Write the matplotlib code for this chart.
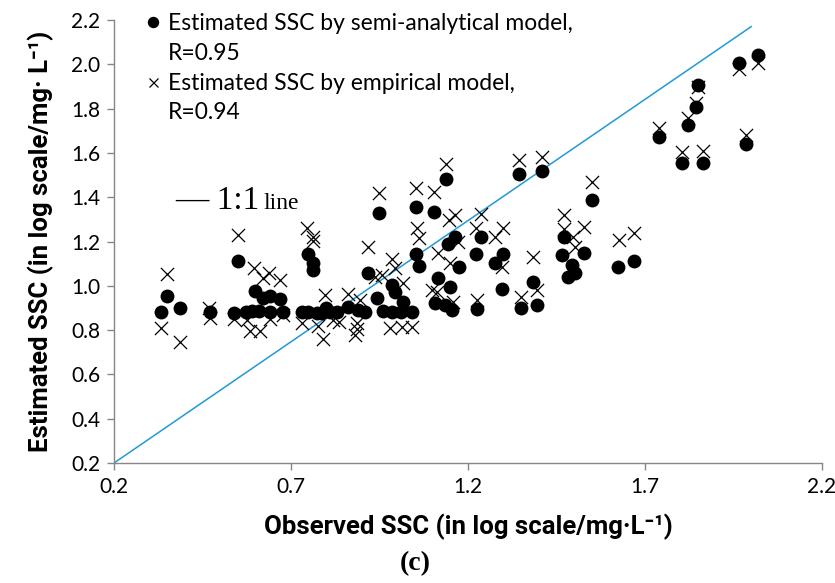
import matplotlib.pyplot as plt
from matplotlib.lines import Line2D


# observed SSC vs estimated SSC, both in log scale (mg/L)
SEMI_X = [0.332, 0.351, 0.386, 0.471, 0.539, 0.551, 0.573, 0.589, 0.598, 0.610,
          0.620, 0.641, 0.641, 0.669, 0.678, 0.730, 0.749, 0.749, 0.763, 0.763,
          0.773, 0.788, 0.799, 0.810, 0.831, 0.862, 0.889, 0.909, 0.918, 0.942,
          0.949, 0.961, 0.984, 0.994, 0.984, 1.012, 1.017, 1.041, 1.053, 1.062,
          1.053, 1.104, 1.138, 1.107, 1.116, 1.135, 1.149, 1.154, 1.143, 1.163,
          1.175, 1.224, 1.226, 1.236, 1.276, 1.295, 1.299, 1.344, 1.350, 1.383,
          1.394, 1.408, 1.465, 1.471, 1.483, 1.493, 1.502, 1.529, 1.549, 1.625,
          1.670, 1.740, 1.804, 1.822, 1.844, 1.849, 1.863, 1.966, 1.985, 2.020]
SEMI_Y = [0.883, 0.954, 0.901, 0.883, 0.879, 1.113, 0.883, 0.886, 0.977, 0.886,
          0.944, 0.954, 0.883, 0.939, 0.883, 0.883, 0.883, 1.144, 1.103, 1.071,
          0.879, 0.879, 0.898, 0.883, 0.883, 0.906, 0.891, 0.883, 1.056, 0.944,
          1.329, 0.886, 1.004, 0.973, 0.883, 0.883, 0.928, 0.883, 1.144, 1.089,
          1.356, 1.333, 1.482, 0.921, 1.034, 0.913, 0.996, 0.891, 1.189, 1.220,
          1.083, 1.144, 0.894, 1.219, 1.102, 0.984, 1.144, 1.503, 0.898, 1.019,
          0.913, 1.520, 1.139, 1.219, 1.041, 1.094, 1.056, 1.149, 1.387, 1.083,
          1.112, 1.673, 1.553, 1.726, 1.806, 1.907, 1.556, 2.007, 1.640, 2.042]

EMP_X = [0.332, 0.349, 0.386, 0.469, 0.471, 0.539, 0.550, 0.575, 0.584, 0.612,
         0.595, 0.622, 0.639, 0.641, 0.669, 0.678, 0.730, 0.745, 0.762, 0.762,
         0.777, 0.790, 0.796, 0.819, 0.836, 0.862, 0.886, 0.887, 0.881, 0.895,
         0.918, 0.937, 0.949, 0.956, 0.984, 0.994, 0.980, 1.013, 1.041, 1.017,
         1.053, 1.055, 1.062, 1.104, 1.138, 1.097, 1.112, 1.116, 1.149, 1.158,
         1.147, 1.163, 1.173, 1.224, 1.226, 1.236, 1.276, 1.295, 1.299, 1.344,
         1.350, 1.383, 1.394, 1.408, 1.471, 1.471, 1.497, 1.502, 1.528, 1.549,
         1.627, 1.670, 1.740, 1.804, 1.822, 1.844, 1.849, 1.863, 1.966, 1.985,
         2.020]
EMP_Y = [0.808, 1.053, 0.748, 0.901, 0.853, 0.849, 1.229, 0.846, 0.797, 0.797,
         1.079, 1.034, 1.056, 0.849, 1.026, 0.868, 0.833, 1.261, 1.220, 1.202,
         0.818, 0.758, 0.958, 0.846, 0.838, 0.963, 0.833, 0.804, 0.778, 0.936,
         1.174, 1.038, 1.419, 1.049, 1.120, 1.079, 0.808, 0.815, 0.815, 1.011,
         1.442, 1.261, 1.214, 1.423, 1.550, 0.981, 0.973, 1.147, 1.102, 0.928,
         1.297, 1.320, 1.199, 1.260, 0.936, 1.324, 1.222, 1.086, 1.260, 1.568,
         0.948, 1.129, 0.981, 1.580, 1.320, 1.255, 1.222, 1.177, 1.264, 1.470,
         1.207, 1.237, 1.711, 1.605, 1.756, 1.827, 1.896, 1.610, 1.977, 1.681,
         2.007]

LINE_X = [0.2, 2.0]
LINE_Y = [0.2, 2.17]

X_TICKS = [0.2, 0.7, 1.2, 1.7, 2.2]
Y_TICKS = [0.2, 0.4, 0.6, 0.8, 1.0, 1.2, 1.4, 1.6, 1.8, 2.0, 2.2]

AXIS_GREY = "#868686"
LINE_BLUE = "#1f9ad7"
SANS = "Lato"
BOLD_SANS = "Roboto"


def main():
    fig = plt.figure(figsize=(8.35, 5.83), dpi=100)
    ax = fig.add_axes([0.1365, 0.2058, 0.8479, 0.7599])

    ax.plot(LINE_X, LINE_Y, color=LINE_BLUE, linewidth=1.1, zorder=1)
    ax.scatter(SEMI_X, SEMI_Y, s=100, marker="o", color="black",
               linewidths=0, zorder=3)
    ax.scatter(EMP_X, EMP_Y, s=90, marker="x", color="black",
               linewidths=0.9, zorder=2)

    ax.set_xlim(0.2, 2.2)
    ax.set_ylim(0.2, 2.2)
    ax.set_xticks(X_TICKS)
    ax.set_yticks(Y_TICKS)
    ax.set_xticklabels([f"{v:.1f}" for v in X_TICKS])
    ax.set_yticklabels([f"{v:.1f}" for v in Y_TICKS])

    for side in ("top", "right"):
        ax.spines[side].set_visible(False)
    for side in ("left", "bottom"):
        ax.spines[side].set_color(AXIS_GREY)
        ax.spines[side].set_linewidth(1.0)
    ax.tick_params(direction="out", length=5, width=1.0, color=AXIS_GREY,
                   labelsize=15, pad=5)
    for lab in ax.get_xticklabels() + ax.get_yticklabels():
        lab.set_fontfamily(SANS)

    ax.set_xlabel("Observed SSC (in log scale/mg\u00b7L\u207b\u00b9)",
                  fontfamily=BOLD_SANS, fontweight="bold", fontsize=18.5, labelpad=12)
    ax.set_ylabel("Estimated SSC (in log scale/mg\u00b7 L\u207b\u00b9)",
                  fontfamily=BOLD_SANS, fontweight="bold", fontsize=18.5, labelpad=12)

    handles = [
        Line2D([], [], linestyle="none", marker="o", color="black", markersize=10),
        Line2D([], [], linestyle="none"),
        Line2D([], [], linestyle="none", marker="x", color="black",
               markersize=9, markeredgewidth=0.9),
        Line2D([], [], linestyle="none"),
    ]
    labels = ["Estimated SSC by semi-analytical model,", "R=0.95",
              "Estimated SSC by empirical model,", "R=0.94"]
    ax.legend(handles, labels, loc="upper left", bbox_to_anchor=(0.028, 1.041),
              frameon=False, borderpad=0, handlelength=0.7, handletextpad=0.3,
              labelspacing=0.38, markerscale=0.72,
              prop={"family": SANS, "size": 16.5})

    # 1:1 line label
    ax.text(0.087, 0.573, "\u2014 1:1", transform=ax.transAxes,
            fontfamily="Liberation Serif", fontsize=24, va="baseline")
    ax.text(0.211, 0.573, "line", transform=ax.transAxes,
            fontfamily="Liberation Serif", fontsize=17, va="baseline")

    fig.text(0.497, 0.022, "(c)", ha="center", va="baseline",
             fontfamily="Liberation Serif", fontweight="bold", fontsize=20)

    fig.savefig("out.png", dpi=100)
    plt.close(fig)


if __name__ == "__main__":
    main()
